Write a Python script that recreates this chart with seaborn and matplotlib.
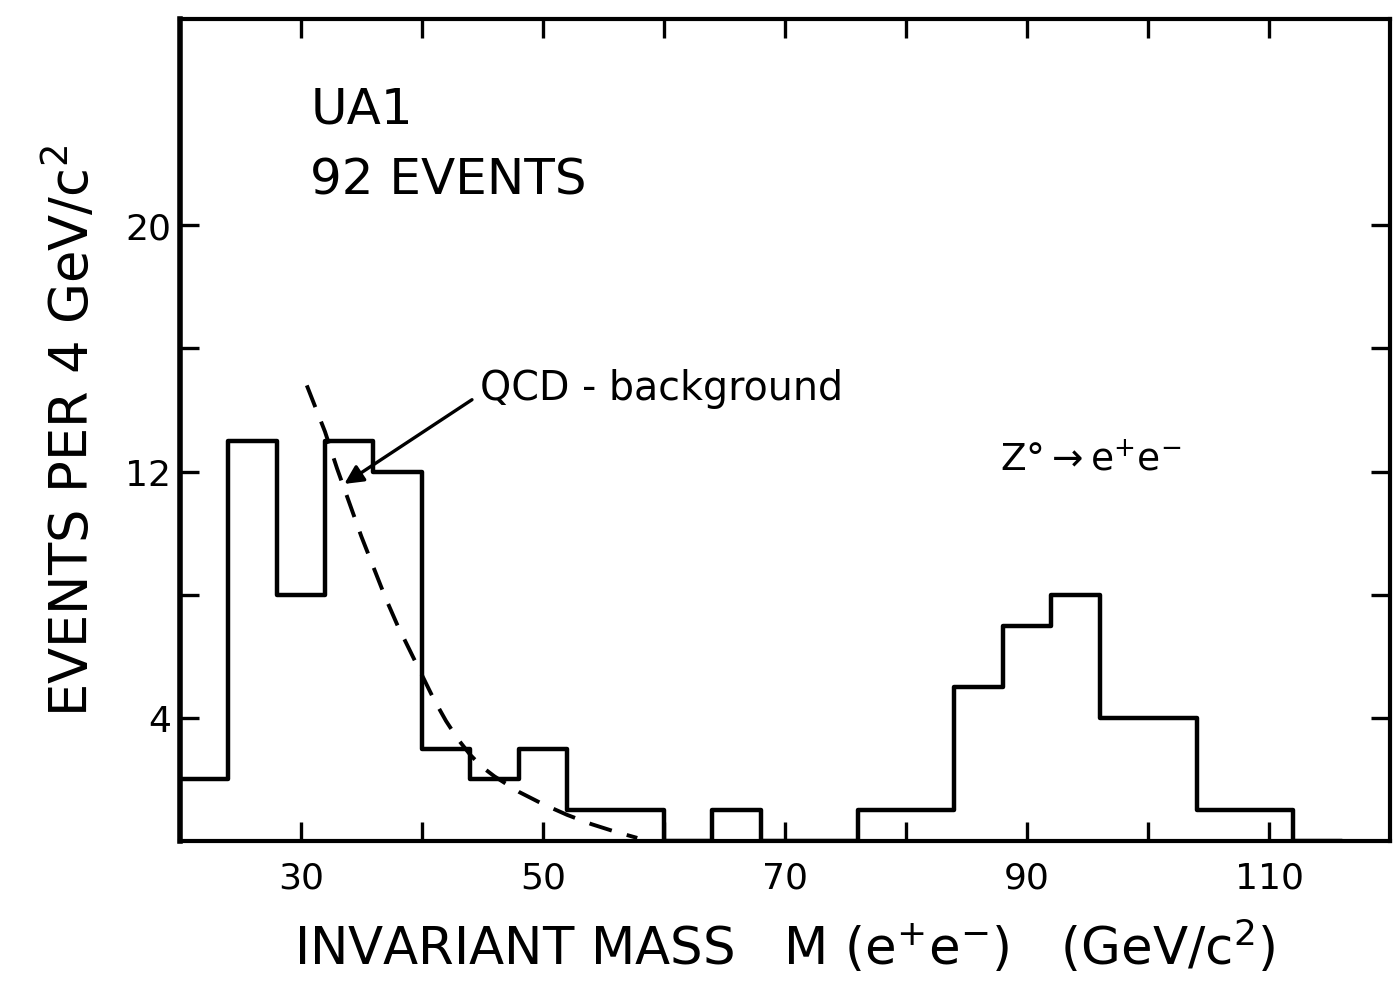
import numpy as np
import pandas as pd
import seaborn as sns
import matplotlib.pyplot as plt

# UA1 e+e- invariant mass spectrum, 4 GeV bins
bin_lo = [20, 24, 28, 32, 36, 40, 44, 48, 52, 56, 60, 64,
          68, 72, 76, 80, 84, 88, 92, 96, 100, 104, 108, 112]
counts = [2, 13, 8, 13, 12, 3, 2, 3, 1, 1, 0, 1,
          0, 0, 1, 1, 5, 7, 8, 4, 4, 1, 1, 0]

# dashed QCD background curve
qcd_x = [30.5, 32.0, 33.0, 34.0, 35.0, 36.0, 37.0, 38.0, 39.0, 40.0, 41.0,
         42.0, 43.0, 44.0, 45.0, 46.0, 48.0, 50.0, 52.0, 54.0, 56.0, 57.8]
qcd_y = [14.8, 13.3, 12.1, 11.0, 9.9, 8.9, 7.9, 7.0, 6.2, 5.4, 4.6,
         3.9, 3.3, 2.8, 2.4, 2.1, 1.6, 1.2, 0.85, 0.55, 0.3, 0.1]

xticks = [30, 40, 50, 60, 70, 80, 90, 100, 110]
xticklabels = ['30', '', '50', '', '70', '', '90', '', '110']
yticks = [4, 8, 12, 16, 20]
yticklabels = ['4', '', '12', '', '20']

df = pd.DataFrame({'mass': np.array(bin_lo) + 2, 'n': counts})
bkg = pd.DataFrame({'mass': qcd_x, 'n': qcd_y})

sns.set_theme(style='ticks', rc={'text.color': 'black', 'axes.labelcolor': 'black',
                                 'xtick.color': 'black', 'ytick.color': 'black',
                                 'axes.edgecolor': 'black'})
plt.rcParams['font.family'] = ['DejaVu Sans']
plt.rcParams['mathtext.fontset'] = 'dejavusans'

fig = plt.figure(figsize=(13.93, 10.03), dpi=100)
ax = fig.add_axes([0.129, 0.1605, 0.869, 0.8195])

edges = bin_lo + [bin_lo[-1] + 4]
sns.histplot(data=df, x='mass', weights='n', bins=edges, element='step',
             fill=False, color='black', linewidth=3.2, ax=ax)
sns.lineplot(data=bkg, x='mass', y='n', color='black', linewidth=2.8,
             linestyle=(0, (6, 4)), ax=ax)

ax.set_xlim(20, 120)
ax.set_ylim(0, 26.7)
ax.set_xticks(xticks)
ax.set_xticklabels(xticklabels)
ax.set_yticks(yticks)
ax.set_yticklabels(yticklabels)
ax.tick_params(direction='in', top=True, right=True, length=14, width=2.4,
               labelsize=26)
ax.tick_params(axis='x', pad=14)
ax.tick_params(axis='y', pad=6)
for s in ax.spines.values():
    s.set_linewidth(3)
ax.spines['left'].set_linewidth(4)

ax.set_xlabel(r'INVARIANT MASS   M (e$^{+}$e$^{-}$)   (GeV/c$^{2}$)', fontsize=37, labelpad=16)
ax.set_ylabel(r'EVENTS PER 4 GeV/c$^{2}$', fontsize=38, labelpad=18)

ax.text(30.8, 23.8, 'UA1', fontsize=36, va='center', ha='left')
ax.text(30.8, 21.5, '92 EVENTS', fontsize=36, va='center', ha='left')
ax.text(87.8, 12.4, r'Z°$\rightarrow$e$^{+}$e$^{-}$', fontsize=27, va='center', ha='left')
ax.annotate('QCD - background', xy=(33.6, 11.6), xytext=(44.8, 14.7),
            fontsize=28.5, va='center', ha='left',
            arrowprops=dict(arrowstyle='-|>', color='black', lw=2.4,
                            mutation_scale=28, shrinkA=4, shrinkB=0,
                            relpos=(0, 0.35)))

fig.savefig('out.png', dpi=100)
